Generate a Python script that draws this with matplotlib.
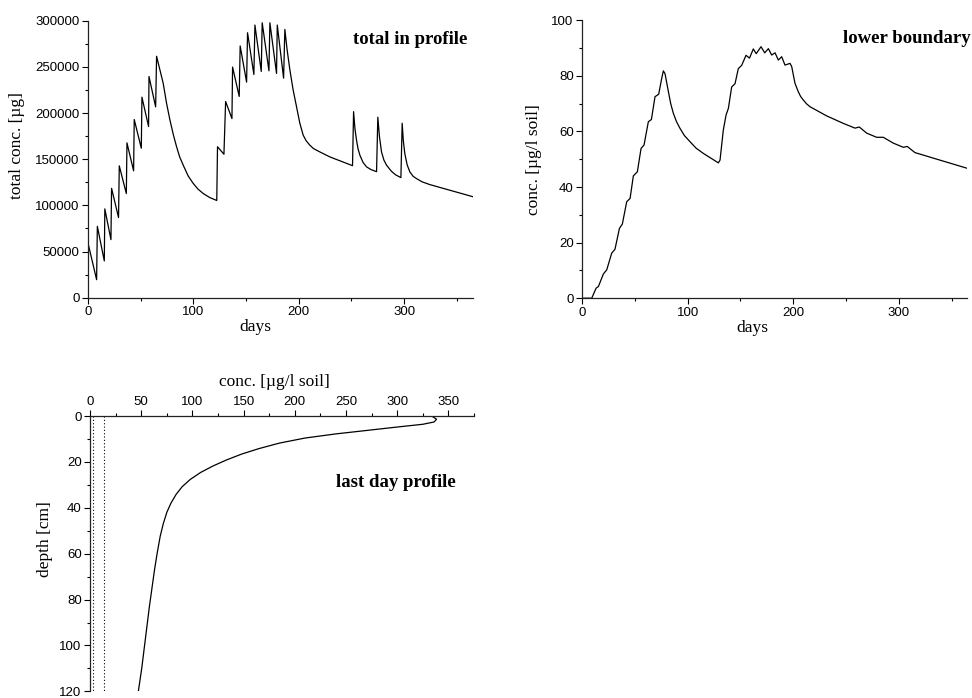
import numpy as np
import matplotlib
matplotlib.use("Agg")
from matplotlib import pyplot as plt
from matplotlib import ticker

# total amount in the profile [ug] over the year
total_days = [0, 8.2, 8.9, 15.5, 16.0, 21.8, 22.4, 29.0, 29.7, 36.4, 37.0, 43.3, 43.9,
              50.6, 51.2, 57.5, 57.9, 64.2, 65.1, 71.4, 74.5, 77.8, 81.0, 84.1, 87.0,
              90.4, 95.0, 99.9, 104.5, 109.4, 115.5,
              122.2, 122.9, 129.0, 130.6, 136.6, 137.2, 143.5, 144.4, 150.5, 151.4,
              157.4, 158.4, 164.4, 165.3, 171.7, 172.6, 178.9, 179.6, 185.6, 186.8,
              189.0, 191.6, 194.5, 197.9, 201.0, 204.2, 207.0, 210.5, 214.0, 220.0,
              229.5, 251.0, 252.0, 253.3, 254.8, 256.2, 258.0, 261.0, 264.3, 268.5,
              273.8, 275.0, 276.5, 278.5, 280.8, 283.3, 288.0, 292.0, 296.9, 298.1,
              299.2, 300.6, 302.8, 305.4, 308.5, 311.7, 317.0, 324.4, 364.8]
total_amount = [59300, 19500, 77300, 39800, 96200, 62900, 118500, 86800, 142800, 112800,
                167700, 137400, 193000, 161900, 217200, 185400, 239600, 206700, 261500,
                232100, 211000, 192300, 176500, 163400, 152500, 143500, 132000, 123700,
                117500, 112800, 108500, 105300,
                163500, 155400, 212500, 194000, 249800, 218000, 272700, 233500, 287000,
                241800, 295300, 245100, 297800, 245800, 297800, 242900, 295300, 237800,
                290600, 268000, 246500, 226000, 206700, 189000, 176000, 170000, 165200,
                161500, 157900, 152500, 143000, 201500, 183000, 170600, 161500, 154300,
                146500, 141700, 138800, 136500, 195500, 175000, 157900, 149000, 143500,
                136800, 133000, 130100, 189000, 170000, 156200, 144000, 136200, 131500,
                129000, 125500, 122500, 109500]

# concentration at the lower boundary [ug/l soil]
lower_days = [0, 9.2, 13.3, 15.5, 20.2, 23.4, 28.1, 31.2, 35.4, 38.2, 42.3, 45.5, 48.6,
              52.4, 55.9, 58.7, 62.8, 65.7, 69.1, 72.6, 75.4, 77.0, 78.6, 81.8, 84.0,
              86.5, 89.5, 92.8, 97.0, 102.3, 108.0, 114.9, 129.1, 130.7, 133.8, 136.4,
              138.6, 141.7, 144.9, 148.0, 151.2, 155.3, 158.6, 162.2, 165.0, 169.5,
              173.0, 176.5, 179.6, 182.8, 185.9, 189.1, 192.2, 197.0, 198.6, 201.7,
              204.8, 207.0, 209.6, 212.5, 215.9, 231.7, 247.5, 258.5, 262.6, 269.6,
              279.0, 285.3, 294.8, 304.3, 308.0, 315.3, 332.7, 364.3]
lower_conc = [0, 0, 3.6, 4.2, 8.7, 10.2, 16.2, 17.6, 25.1, 26.7, 34.7, 35.9, 44.0, 45.5,
              53.9, 55.1, 63.5, 64.3, 72.5, 73.4, 79.0, 81.8, 80.8, 74.3, 70.0, 66.5,
              63.5, 61.1, 58.5, 56.3, 54.0, 52.1, 48.7, 49.7, 60.5, 65.9, 68.3, 76.0,
              77.2, 82.6, 83.8, 87.4, 86.4, 89.7, 88.0, 90.5, 88.3, 89.8, 87.5, 88.3,
              85.7, 86.9, 83.9, 84.5, 83.3, 77.3, 74.3, 72.6, 71.3, 70.0, 68.9, 65.6,
              62.9, 61.2, 61.6, 59.4, 57.9, 57.9, 55.8, 54.3, 54.6, 52.4, 50.4, 46.8]

# concentration profile on the last day
profile_conc = [333.6, 338.4, 336.0, 325.0, 300.0, 270.0, 240.0, 210.0, 185.0, 165.0,
                148.0, 133.0, 120.0, 108.0, 98.0, 90.0, 84.0, 79.0, 75.0, 71.5, 68.5,
                65.5, 63.0, 60.5, 58.0, 55.5, 53.0, 50.5, 47.2]
profile_depth = [0, 1.4, 2.6, 3.6, 4.8, 6.3, 7.8, 9.6, 11.8, 14.2, 16.6, 19.2, 21.8,
                 24.6, 27.6, 30.8, 34.2, 38.0, 42.0, 47.0, 52.5, 60.0, 67.0, 75.0, 83.0,
                 92.0, 101.0, 110.0, 120.0]
limit_conc = [3.2, 14.0]

serif = "Liberation Serif"
sans = "Liberation Sans"
plt.rcParams["font.family"] = sans
plt.rcParams["font.size"] = 9.5
plt.rcParams["axes.edgecolor"] = "#222222"
plt.rcParams["axes.linewidth"] = 0.9

fig = plt.figure(figsize=(9.72, 6.98), dpi=100)
ax1 = fig.add_axes([0.0905, 0.5735, 0.3958, 0.3968])
ax2 = fig.add_axes([0.5988, 0.5728, 0.3965, 0.3981])
ax3 = fig.add_axes([0.0926, 0.0095, 0.3951, 0.3945])

label_size = 12.5
title_size = 13.5


def style(ax):
    ax.tick_params(which="major", direction="out", length=4, width=0.8, pad=2)
    ax.tick_params(which="minor", direction="out", length=2.5, width=0.8)


# total in profile
ax1.plot(total_days, total_amount, color="black", lw=0.9)
ax1.set_xlim(0, 365)
ax1.set_ylim(0, 300000)
ax1.xaxis.set_major_locator(ticker.MultipleLocator(100))
ax1.xaxis.set_minor_locator(ticker.MultipleLocator(50))
ax1.yaxis.set_major_locator(ticker.MultipleLocator(50000))
ax1.yaxis.set_minor_locator(ticker.MultipleLocator(25000))
ax1.spines[["top", "right"]].set_visible(False)
style(ax1)
ax1.set_xlabel("days", family=serif, fontsize=label_size)
ax1.xaxis.set_label_coords(0.434, -0.078)
ax1.set_ylabel("total conc. [µg]", family=serif, fontsize=label_size)
ax1.yaxis.set_label_coords(-0.164, 0.55)
ax1.text(0.987, 0.934, "total in profile", transform=ax1.transAxes, ha="right",
         va="center", family=serif, fontweight="bold", fontsize=title_size)

# lower boundary
ax2.plot(lower_days, lower_conc, color="black", lw=0.9)
ax2.set_xlim(0, 365)
ax2.set_ylim(0, 100)
ax2.xaxis.set_major_locator(ticker.MultipleLocator(100))
ax2.xaxis.set_minor_locator(ticker.MultipleLocator(50))
ax2.yaxis.set_major_locator(ticker.MultipleLocator(20))
ax2.yaxis.set_minor_locator(ticker.MultipleLocator(10))
ax2.spines[["top", "right"]].set_visible(False)
style(ax2)
ax2.set_xlabel("days", family=serif, fontsize=label_size)
ax2.xaxis.set_label_coords(0.442, -0.078)
ax2.set_ylabel("conc. [µg/l soil]", family=serif, fontsize=label_size)
ax2.yaxis.set_label_coords(-0.105, 0.497)
ax2.text(1.007, 0.934, "lower boundary", transform=ax2.transAxes, ha="right",
         va="center", family=serif, fontweight="bold", fontsize=title_size)

# last day profile
ax3.plot(profile_conc, profile_depth, color="black", lw=0.9)
for c in limit_conc:
    ax3.plot([c, c], [0, 120], color="black", lw=0.8, ls=(0, (1, 2)))
ax3.set_xlim(0, 375)
ax3.set_ylim(120, 0)
ax3.xaxis.set_major_locator(ticker.MultipleLocator(50))
ax3.xaxis.set_minor_locator(ticker.MultipleLocator(25))
ax3.yaxis.set_major_locator(ticker.MultipleLocator(20))
ax3.yaxis.set_minor_locator(ticker.MultipleLocator(10))
ax3.xaxis.tick_top()
ax3.spines[["bottom", "right"]].set_visible(False)
style(ax3)
ax3.set_xlabel("conc. [µg/l soil]", family=serif, fontsize=label_size)
ax3.xaxis.set_label_position("top")
ax3.xaxis.set_label_coords(0.48, 1.11)
ax3.set_ylabel("depth [cm]", family=serif, fontsize=label_size)
ax3.yaxis.set_label_coords(-0.096, 0.552)
ax3.text(0.952, 0.757, "last day profile", transform=ax3.transAxes, ha="right",
         va="center", family=serif, fontweight="bold", fontsize=title_size)

fig.savefig("out.png", dpi=100)
